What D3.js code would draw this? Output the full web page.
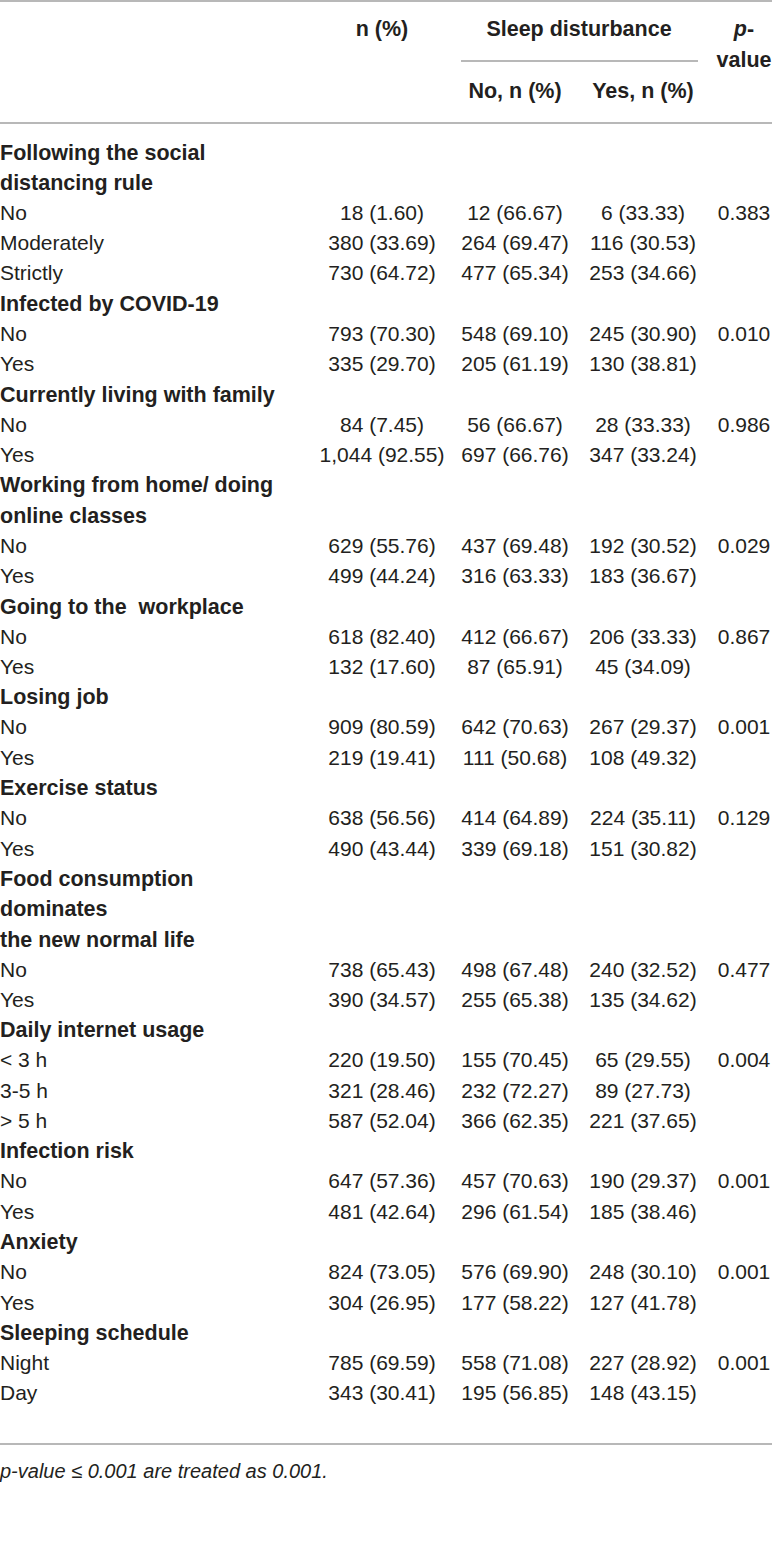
<!DOCTYPE html>
<html>
<head>
<meta charset="utf-8">
<script src="https://cdn.jsdelivr.net/npm/d3@7"></script>
<style>
  html, body { margin: 0; padding: 0; background: #fff; }
  svg { display: block; }
  text { font-family: "Liberation Sans", Arial, Helvetica, sans-serif; fill: #231f20; white-space: pre; }
</style>
</head>
<body>
<svg id="table"></svg>
<script>
// table contents
const groupLabels = [
  ['Following the social', 'distancing rule'],
  ['Infected by COVID-19'],
  ['Currently living with family'],
  ['Working from home/ doing', 'online classes'],
  ['Going to the  workplace'],
  ['Losing job'],
  ['Exercise status'],
  ['Food consumption', 'dominates', 'the new normal life'],
  ['Daily internet usage'],
  ['Infection risk'],
  ['Anxiety'],
  ['Sleeping schedule']
];

const rowLabels = [
  ['No', 'Moderately', 'Strictly'],
  ['No', 'Yes'],
  ['No', 'Yes'],
  ['No', 'Yes'],
  ['No', 'Yes'],
  ['No', 'Yes'],
  ['No', 'Yes'],
  ['No', 'Yes'],
  ['< 3 h', '3-5 h', '> 5 h'],
  ['No', 'Yes'],
  ['No', 'Yes'],
  ['Night', 'Day']
];

const totalN = [[18, 380, 730], [793, 335], [84, 1044], [629, 499], [618, 132], [909, 219], [638, 490], [738, 390], [220, 321, 587], [647, 481], [824, 304], [785, 343]];
const totalPct = [[1.60, 33.69, 64.72], [70.30, 29.70], [7.45, 92.55], [55.76, 44.24], [82.40, 17.60], [80.59, 19.41], [56.56, 43.44], [65.43, 34.57], [19.50, 28.46, 52.04], [57.36, 42.64], [73.05, 26.95], [69.59, 30.41]];
const noN = [[12, 264, 477], [548, 205], [56, 697], [437, 316], [412, 87], [642, 111], [414, 339], [498, 255], [155, 232, 366], [457, 296], [576, 177], [558, 195]];
const noPct = [[66.67, 69.47, 65.34], [69.10, 61.19], [66.67, 66.76], [69.48, 63.33], [66.67, 65.91], [70.63, 50.68], [64.89, 69.18], [67.48, 65.38], [70.45, 72.27, 62.35], [70.63, 61.54], [69.90, 58.22], [71.08, 56.85]];
const yesN = [[6, 116, 253], [245, 130], [28, 347], [192, 183], [206, 45], [267, 108], [224, 151], [240, 135], [65, 89, 221], [190, 185], [248, 127], [227, 148]];
const yesPct = [[33.33, 30.53, 34.66], [30.90, 38.81], [33.33, 33.24], [30.52, 36.67], [33.33, 34.09], [29.37, 49.32], [35.11, 30.82], [32.52, 34.62], [29.55, 27.73, 37.65], [29.37, 38.46], [30.10, 41.78], [28.92, 43.15]];
const pValues = [0.383, 0.010, 0.986, 0.029, 0.867, 0.001, 0.129, 0.477, 0.004, 0.001, 0.001, 0.001];

const footnote = 'p-value ≤ 0.001 are treated as 0.001.';

const W = 772, H = 1549;
const FONT = 21;
const BOLD = 21.5;
const RULE = '#a0a0a0';

const fmtN = d3.format(',');
const fmtPct = d3.format('.2f');
const fmtP = d3.format('.3f');
const cell = (n, p) => `${fmtN(n)} (${fmtPct(p)})`;

// flatten into display lines
const lines = [];
groupLabels.forEach((labels, g) => {
  labels.forEach(t => lines.push({ kind: 'group', label: t }));
  rowLabels[g].forEach((label, r) => {
    lines.push({
      kind: 'row',
      label,
      total: cell(totalN[g][r], totalPct[g][r]),
      no: cell(noN[g][r], noPct[g][r]),
      yes: cell(yesN[g][r], yesPct[g][r]),
      p: r === 0 ? fmtP(pValues[g]) : ''
    });
  });
});

const y = d3.scaleLinear()
  .domain([0, lines.length - 1])
  .range([152, 1393]);

// column centres (all data columns are centred)
const col = { label: 0, total: 382, no: 515, yes: 643, p: 744 };

const svg = d3.select('#table')
  .attr('width', W)
  .attr('height', H)
  .attr('viewBox', `0 0 ${W} ${H}`);

svg.append('rect').attr('width', W).attr('height', H).attr('fill', '#fff');

// rules
const rule = (x1, x2, yy) => svg.append('line')
  .attr('x1', x1).attr('x2', x2).attr('y1', yy).attr('y2', yy)
  .attr('stroke', RULE).attr('stroke-width', 1.6);

rule(0, W, 1);
rule(461, 698, 61);
rule(0, W, 123);
rule(0, W, 1444);

// header
const head = svg.append('g')
  .attr('font-size', BOLD)
  .attr('font-weight', 'bold')
  .attr('text-anchor', 'middle');
head.append('text').attr('x', col.total).attr('y', 28).attr('dy', '.35em').text('n (%)');
head.append('text').attr('x', (col.no + col.yes) / 2).attr('y', 28).attr('dy', '.35em').text('Sleep disturbance');
head.append('text').attr('x', col.no).attr('y', 90).attr('dy', '.35em').text('No, n (%)');
head.append('text').attr('x', col.yes).attr('y', 90).attr('dy', '.35em').text('Yes, n (%)');
const pHead = head.append('text').attr('x', col.p).attr('y', 28).attr('dy', '.35em');
pHead.append('tspan').attr('font-style', 'italic').text('p');
pHead.append('tspan').text('-');
head.append('text').attr('x', col.p).attr('y', 59).attr('dy', '.35em').text('value');

// body
const body = svg.append('g').attr('font-size', FONT);
const line = body.selectAll('g.line')
  .data(lines)
  .join('g')
  .attr('class', 'line')
  .attr('transform', (d, i) => `translate(0,${y(i)})`);

line.append('text')
  .attr('x', col.label)
  .attr('dy', '.35em')
  .attr('font-size', d => d.kind === 'group' ? BOLD : null)
  .attr('font-weight', d => d.kind === 'group' ? 'bold' : null)
  .text(d => d.label);

const rows = line.filter(d => d.kind === 'row');
['total', 'no', 'yes', 'p'].forEach(key => {
  rows.append('text')
    .attr('x', col[key])
    .attr('dy', '.35em')
    .attr('text-anchor', 'middle')
    .text(d => d[key]);
});

// footnote
svg.append('text')
  .attr('x', 0)
  .attr('y', 1471)
  .attr('dy', '.35em')
  .attr('font-size', 20)
  .attr('font-style', 'italic')
  .text(footnote);
</script>
</body>
</html>
